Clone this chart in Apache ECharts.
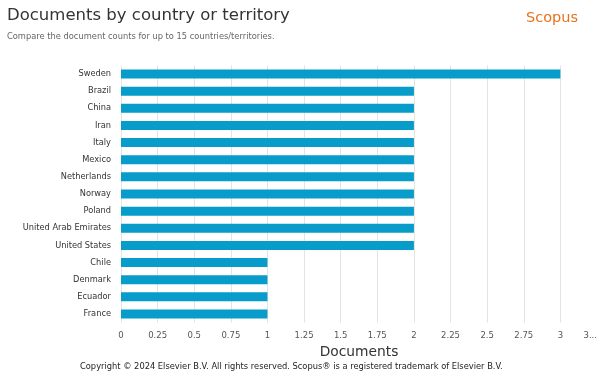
<!DOCTYPE html>
<html><head><meta charset="utf-8">
<script src="https://cdn.jsdelivr.net/npm/echarts@6/dist/echarts.min.js"></script>
<style>html,body{margin:0;padding:0;background:#fff}#c{width:604px;height:379px}</style>
</head><body><div id="c"></div>
<script>
const countries = ["Sweden","Brazil","China","Iran","Italy","Mexico","Netherlands","Norway","Poland","United Arab Emirates","United States","Chile","Denmark","Ecuador","France"];
const documents = [3,2,2,2,2,2,2,2,2,2,2,1,1,1,1];
const tickStep = 0.25;
const axisMax = 3.25;

const chart = echarts.init(document.getElementById('c'), null, {renderer:'canvas'});
const F = 'DejaVu Sans';
chart.setOption({
  animation:false,
  backgroundColor:'#fff',
  title:[
    {text:'Documents by country or territory', left:2, top:2, textStyle:{fontFamily:F, fontSize:16.5, fontWeight:'normal', color:'#333'}},
    {text:'Compare the document counts for up to 15 countries/territories.', left:2, top:28, textStyle:{fontFamily:F, fontSize:8.3, fontWeight:'normal', color:'#666'}},
    {text:'Scopus', left:521, top:6, textStyle:{fontFamily:F, fontSize:14.5, fontWeight:'normal', color:'#e9711c'}},
    {text:'Copyright © 2024 Elsevier B.V. All rights reserved. Scopus® is a registered trademark of Elsevier B.V.', left:75, top:358, textStyle:{fontFamily:F, fontSize:8.3, fontWeight:'normal', color:'#222'}}
  ],
  grid:{left:121, right:7, top:65.5, bottom:56.5, containLabel:false},
  xAxis:{
    type:'value', min:0, max:axisMax, interval:tickStep,
    name:'Documents', nameLocation:'middle', nameGap:22,
    nameTextStyle:{fontFamily:F, fontSize:13.8, color:'#333'},
    axisLine:{show:false}, axisTick:{show:false},
    axisLabel:{fontFamily:F, fontSize:8.5, color:'#555', margin:9, alignMaxLabel:'right',
      formatter:v => v === axisMax ? '3...' : String(v)},
    splitLine:{show:true, showMaxLine:false, lineStyle:{color:'#e3e3e3', width:1}}
  },
  yAxis:{
    type:'category', data:countries, inverse:true,
    axisLine:{show:false}, axisTick:{show:false},
    axisLabel:{fontFamily:F, fontSize:8.25, color:'#333', margin:10}
  },
  series:[{type:'bar', data:documents, barWidth:9, itemStyle:{color:'#079cc9'}}]
});
</script></body></html>
